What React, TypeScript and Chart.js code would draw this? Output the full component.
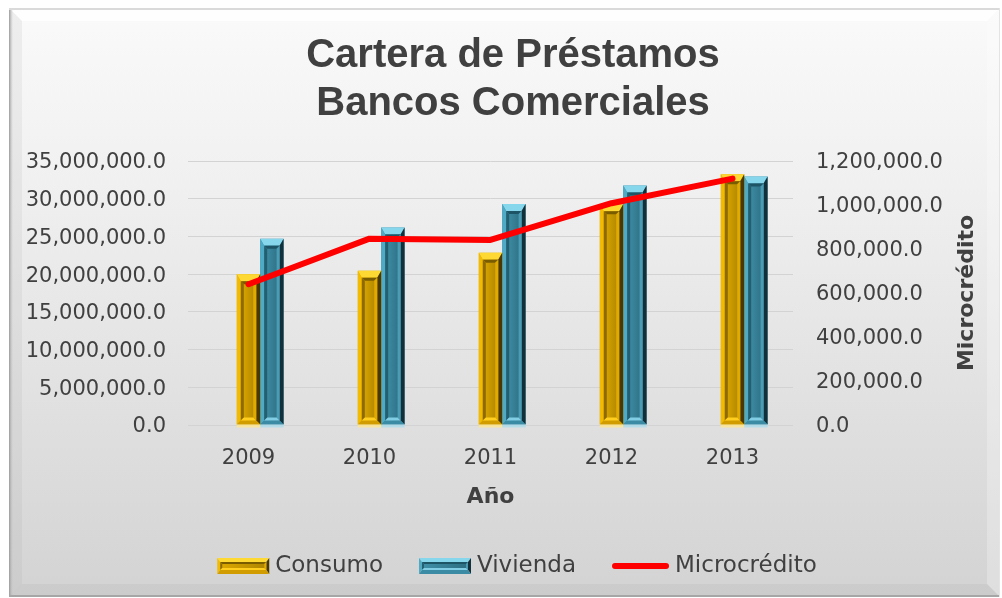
import React, { useEffect, useRef } from 'react';
import { Chart, registerables } from 'chart.js';

Chart.register(...registerables);

// ---- data ----
const years = ['2009', '2010', '2011', '2012', '2013'];
const consumo = [19980000, 20450000, 22850000, 29250000, 33250000];
const vivienda = [24700000, 26200000, 29300000, 31750000, 32950000];
const microcredito = [640000, 847000, 841000, 1008000, 1120000];
const seriesNames = ['Consumo', 'Vivienda', 'Microcrédito'];
const titleLines = ['Cartera de Préstamos', 'Bancos Comerciales'];
const xTitle = 'Año';
const y1Title = 'Microcrédito';

const TEXT = '#404040';
const FONT = "'DejaVu Sans', sans-serif";
const TITLE_FONT = "'Liberation Sans', Arial, sans-serif";

type Pal = {
  oTop: string; oLeft: string; oRight: string; oBottom: string;
  iTop: string; iLeft: string; iRight: string; iBottom: string;
  f1: string; f2: string; base: string;
};

const GOLD: Pal = {
  oTop: '#FFD933', oLeft: '#F2BA00', oRight: '#4A3800', oBottom: '#D09C00',
  iTop: '#7A5C00', iLeft: '#8C6A00', iRight: '#E0AA00', iBottom: '#FFCE1F',
  f1: '#DCA800', f2: '#AD8400', base: 'rgba(255,230,140,0.8)',
};
const TEAL: Pal = {
  oTop: '#86D6EC', oLeft: '#4FAAC5', oRight: '#12303A', oBottom: '#3A8BA3',
  iTop: '#1E5566', iLeft: '#245F71', iRight: '#4A9BB3', iBottom: '#80CDE4',
  f1: '#3F90A8', f2: '#2D6E82', base: 'rgba(170,220,235,0.8)',
};

function poly(ctx: CanvasRenderingContext2D, pts: number[][], color: string) {
  ctx.beginPath();
  ctx.moveTo(pts[0][0], pts[0][1]);
  for (let i = 1; i < pts.length; i++) ctx.lineTo(pts[i][0], pts[i][1]);
  ctx.closePath();
  ctx.fillStyle = color;
  ctx.fill();
}

function drawBevel(ctx: CanvasRenderingContext2D, L: number, T: number, R: number, B: number, p: Pal, small = false) {
  const w = R - L;
  const h = B - T;
  if (w <= 0 || h <= 0) return;
  const b = Math.min(small ? 3 : 4, w / 4, h / 3);
  const bt = Math.min(small ? 4 : 7, h / 3);
  const bb = Math.min(4, h / 3);
  poly(ctx, [[L, T], [R, T], [R - b, T + bt], [L + b, T + bt]], p.oTop);
  poly(ctx, [[L, T], [L + b, T + bt], [L + b, B - bb], [L, B]], p.oLeft);
  poly(ctx, [[R, T], [R, B], [R - b, B - bb], [R - b, T + bt]], p.oRight);
  poly(ctx, [[L, B], [L + b, B - bb], [R - b, B - bb], [R, B]], p.oBottom);
  const L2 = L + b, R2 = R - b, T2 = T + bt, B2 = B - bb;
  if (R2 - L2 <= 2 || B2 - T2 <= 2) return;
  const b2 = Math.min(small ? 2 : 3, (R2 - L2) / 4, (B2 - T2) / 3);
  const g = ctx.createLinearGradient(L2, 0, R2, 0);
  g.addColorStop(0, p.f1);
  g.addColorStop(1, p.f2);
  ctx.fillStyle = g;
  ctx.fillRect(L2, T2, R2 - L2, B2 - T2);
  poly(ctx, [[L2, T2], [R2, T2], [R2 - b2, T2 + b2], [L2 + b2, T2 + b2]], p.iTop);
  poly(ctx, [[L2, T2], [L2 + b2, T2 + b2], [L2 + b2, B2 - b2], [L2, B2]], p.iLeft);
  poly(ctx, [[R2, T2], [R2, B2], [R2 - b2, B2 - b2], [R2 - b2, T2 + b2]], p.iRight);
  poly(ctx, [[L2, B2], [L2 + b2, B2 - b2], [R2 - b2, B2 - b2], [R2, B2]], p.iBottom);
}

const fmt = (v: any) =>
  Number(v).toLocaleString('en-US', { minimumFractionDigits: 1, maximumFractionDigits: 1 });

const framePlugin = {
  id: 'frame',
  beforeDraw(chart: any) {
    const { ctx, width, height } = chart;
    ctx.save();
    ctx.fillStyle = '#FFFFFF';
    ctx.fillRect(0, 0, width, height);
    const fx = 9, fy = 8, fw = 991, fh = 589;
    const g = ctx.createLinearGradient(0, fy, 0, fy + fh);
    g.addColorStop(0, '#FAFAFA');
    g.addColorStop(0.3, '#F0F0F0');
    g.addColorStop(1, '#D3D3D3');
    ctx.fillStyle = g;
    ctx.fillRect(fx, fy, fw, fh);
    const bw = 13;
    poly(ctx, [[fx, fy], [fx + fw, fy], [fx + fw - bw, fy + bw], [fx + bw, fy + bw]], 'rgba(255,255,255,0.75)');
    poly(ctx, [[fx, fy], [fx + bw, fy + bw], [fx + bw, fy + fh - bw], [fx, fy + fh]], 'rgba(160,160,160,0.12)');
    poly(ctx, [[fx, fy + fh], [fx + bw, fy + fh - bw], [fx + fw - bw, fy + fh - bw], [fx + fw, fy + fh]], 'rgba(120,120,120,0.08)');
    poly(ctx, [[fx + fw, fy], [fx + fw, fy + fh], [fx + fw - bw, fy + fh - bw], [fx + fw - bw, fy + bw]], 'rgba(255,255,255,0.25)');
    const lg = ctx.createLinearGradient(fx, 0, fx + 4, 0);
    lg.addColorStop(0, '#9A9A9A');
    lg.addColorStop(1, 'rgba(190,190,190,0)');
    ctx.fillStyle = lg;
    ctx.fillRect(fx, fy, 4, fh);
    ctx.fillStyle = '#DADADA';
    ctx.fillRect(fx, fy, fw, 2);
    ctx.fillStyle = '#A6A6A6';
    ctx.fillRect(fx, fy + fh - 2, fw, 2);
    ctx.fillStyle = '#E4E4E4';
    ctx.fillRect(fx + fw - 1, fy, 1, fh);

    // title
    ctx.fillStyle = TEXT;
    ctx.font = `bold 40px ${TITLE_FONT}`;
    ctx.textAlign = 'center';
    ctx.textBaseline = 'middle';
    titleLines.forEach((t, i) => ctx.fillText(t, 513, 56 + i * 48));
    ctx.restore();
  },
};

const bevelPlugin = {
  id: 'bevel',
  afterDatasetDraw(chart: any, args: any) {
    const meta = args.meta;
    if (meta.type !== 'bar') return;
    const ds: any = chart.data.datasets[args.index];
    const pal: Pal | undefined = ds.pal;
    if (!pal) return;
    const ctx = chart.ctx;
    ctx.save();
    meta.data.forEach((el: any) => {
      const { x, y, base, width } = el.getProps(['x', 'y', 'base', 'width'], true);
      if (y == null || isNaN(y)) return;
      const L = x - width / 2, R = x + width / 2;
      const T = Math.min(y, base), B = Math.max(y, base);
      drawBevel(ctx, L, T, R, B, pal);
      ctx.fillStyle = pal.base;
      ctx.fillRect(L, B, width, 3);
    });
    ctx.restore();
  },
};

const extrasPlugin = {
  id: 'extras',
  afterDraw(chart: any) {
    const { ctx, chartArea } = chart;
    ctx.save();
    ctx.fillStyle = TEXT;
    ctx.font = `bold 22px ${FONT}`;
    ctx.textAlign = 'center';
    ctx.textBaseline = 'middle';
    ctx.translate(967, (chartArea.top + chartArea.bottom) / 2);
    ctx.rotate(-Math.PI / 2);
    ctx.fillText(y1Title, 0, 0);
    ctx.restore();

    ctx.save();
    ctx.font = `23px ${FONT}`;
    ctx.textBaseline = 'middle';
    ctx.textAlign = 'left';
    const cy = 566;
    const iconW = [52, 52, 57];
    const gapIcon = 6;
    const gapItem = 36;
    const widths = seriesNames.map((n, i) => iconW[i] + gapIcon + ctx.measureText(n).width);
    const total = widths.reduce((a, b) => a + b, 0) + gapItem * (seriesNames.length - 1);
    let x = 517 - total / 2;
    seriesNames.forEach((n, i) => {
      if (i < 2) {
        drawBevel(ctx, x, cy - 8, x + iconW[i], cy + 8, i === 0 ? GOLD : TEAL, true);
      } else {
        ctx.beginPath();
        ctx.strokeStyle = '#FF0000';
        ctx.lineWidth = 6;
        ctx.lineCap = 'round';
        ctx.moveTo(x + 3, cy);
        ctx.lineTo(x + iconW[i] - 3, cy);
        ctx.stroke();
      }
      ctx.fillStyle = TEXT;
      ctx.fillText(n, x + iconW[i] + gapIcon, cy);
      x += widths[i] + gapItem;
    });
    ctx.restore();
  },
};

export default function App() {
  const ref = useRef<HTMLCanvasElement>(null);
  useEffect(() => {
    if (!ref.current) return;
    Chart.defaults.font.family = FONT;
    const chart = new Chart(ref.current, {
      type: 'bar',
      data: {
        labels: years,
        datasets: [
          {
            type: 'bar',
            label: '',
            data: years.map(() => null),
            yAxisID: 'y',
            order: 1,
            backgroundColor: 'rgba(0,0,0,0)',
            categoryPercentage: 0.58,
            barPercentage: 1,
          } as any,
          {
            type: 'bar',
            label: seriesNames[0],
            data: consumo,
            yAxisID: 'y',
            order: 1,
            backgroundColor: GOLD.f1,
            borderWidth: 0,
            categoryPercentage: 0.58,
            barPercentage: 1,
            pal: GOLD,
          } as any,
          {
            type: 'bar',
            label: seriesNames[1],
            data: vivienda,
            yAxisID: 'y',
            order: 1,
            backgroundColor: TEAL.f1,
            borderWidth: 0,
            categoryPercentage: 0.58,
            barPercentage: 1,
            pal: TEAL,
          } as any,
          {
            type: 'line',
            label: seriesNames[2],
            data: microcredito,
            yAxisID: 'y1',
            order: 0,
            borderColor: '#FF0000',
            borderWidth: 6,
            pointRadius: 0,
            tension: 0,
            borderCapStyle: 'round',
            borderJoinStyle: 'round',
            fill: false,
          } as any,
        ],
      },
      options: {
        responsive: false,
        animation: false,
        layout: { padding: { top: 161, left: 8, right: 4, bottom: 50 } },
        plugins: {
          legend: { display: false },
          tooltip: { enabled: false },
          title: { display: false },
        },
        scales: {
          x: {
            grid: { display: false, drawTicks: false },
            border: { display: false },
            ticks: { color: TEXT, font: { size: 21 }, padding: 21 },
            title: {
              display: true,
              text: xTitle,
              color: TEXT,
              font: { size: 22, weight: 'bold' },
              padding: { top: 0, bottom: 38 },
            },
            afterFit: (s: any) => { s.height = 123; },
          },
          y: {
            position: 'left',
            min: 0,
            max: 35000000,
            ticks: { stepSize: 5000000, callback: fmt, color: TEXT, font: { size: 21 }, padding: 22, labelOffset: 2 },
            grid: { color: '#D3D3D3', lineWidth: 1, drawTicks: false },
            border: { display: false },
            afterFit: (s: any) => { s.width = 180; },
          },
          y1: {
            position: 'right',
            min: 0,
            max: 1200000,
            ticks: { stepSize: 200000, callback: fmt, color: TEXT, font: { size: 21 }, padding: 23, labelOffset: 2 },
            grid: { drawOnChartArea: false, drawTicks: false },
            border: { display: false },
            afterFit: (s: any) => { s.width = 205; },
          },
        },
      } as any,
      plugins: [framePlugin, bevelPlugin, extrasPlugin],
    });
    return () => chart.destroy();
  }, []);
  return (
    <div style={{ position: 'fixed', left: 0, top: 0, width: 1002, height: 598 }}>
      <canvas ref={ref} width={1002} height={598} style={{ width: 1002, height: 598, display: 'block' }} />
    </div>
  );
}
